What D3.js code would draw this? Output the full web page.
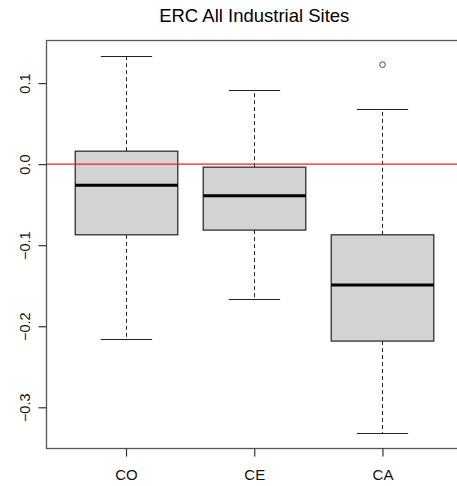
<!DOCTYPE html>
<html>
<head>
<meta charset="utf-8">
<script src="https://cdn.jsdelivr.net/npm/d3@7"></script>
<style>
  html, body { margin: 0; padding: 0; background: #fff; }
  svg { display: block; font-family: "Liberation Sans", Arial, sans-serif; }
</style>
</head>
<body>
<svg id="chart" width="457" height="486"></svg>
<script>
// Box-plot summary statistics per site group
const categories = ["CO", "CE", "CA"];
const whiskerLow  = [-0.2158, -0.1670, -0.3322];
const q1          = [-0.0872, -0.0814, -0.2183];
const median      = [-0.0259, -0.0391, -0.1492];
const q3          = [ 0.0160, -0.0037, -0.0872];
const whiskerHigh = [ 0.1339,  0.0912,  0.0678];
const outliers    = [[], [], [0.1228]];
const yTicks = [-0.3, -0.2, -0.1, 0.0, 0.1];
const refLine = 0;
const title = "ERC All Industrial Sites";

const svg = d3.select("#chart");
const plot = { left: 46.5, right: 462, top: 40.5, bottom: 448.5 };

// Value range padded by 4% on each side
const lo = d3.min([...whiskerLow, ...outliers.flat()]);
const hi = d3.max([...whiskerHigh, ...outliers.flat()]);
const pad = (hi - lo) * 0.04;
const y = d3.scaleLinear().domain([lo - pad, hi + pad]).range([plot.bottom, plot.top]);

// Group positions 1..n on a padded continuous axis
const n = categories.length;
const xpad = n * 0.04;
const x = d3.scaleLinear().domain([0.5 - xpad, n + 0.5 + xpad]).range([plot.left, plot.right]);
const boxW = (x(1) - x(0)) * 0.8;
const capW = boxW * 0.5;

// Title
svg.append("text")
  .attr("x", (plot.left + plot.right) / 2)
  .attr("y", 22)
  .attr("text-anchor", "middle")
  .attr("font-size", "18.5px")
  .attr("fill", "#000")
  .text(title);

const g = svg.append("g");

// Boxes
categories.forEach((c, i) => {
  const cx = Math.round(x(i + 1)) + 0.5;
  const grp = g.append("g");
  // whiskers (dashed)
  grp.append("line").attr("x1", cx).attr("x2", cx)
    .attr("y1", y(q3[i])).attr("y2", y(whiskerHigh[i]))
    .attr("stroke", "#222").attr("stroke-width", 1).attr("stroke-dasharray", "4,3");
  grp.append("line").attr("x1", cx).attr("x2", cx)
    .attr("y1", y(q1[i])).attr("y2", y(whiskerLow[i]))
    .attr("stroke", "#222").attr("stroke-width", 1).attr("stroke-dasharray", "4,3");
  // caps
  [whiskerHigh[i], whiskerLow[i]].forEach(v => {
    grp.append("line").attr("x1", cx - capW / 2).attr("x2", cx + capW / 2)
      .attr("y1", Math.round(y(v)) + 0.5).attr("y2", Math.round(y(v)) + 0.5)
      .attr("stroke", "#222").attr("stroke-width", 1.2);
  });
  // box
  grp.append("rect")
    .attr("x", cx - boxW / 2).attr("y", y(q3[i]))
    .attr("width", boxW).attr("height", y(q1[i]) - y(q3[i]))
    .attr("fill", "#d3d3d3").attr("stroke", "#222").attr("stroke-width", 1.2);
  // median
  grp.append("line").attr("x1", cx - boxW / 2).attr("x2", cx + boxW / 2)
    .attr("y1", y(median[i])).attr("y2", y(median[i]))
    .attr("stroke", "#000").attr("stroke-width", 3);
  // outliers
  outliers[i].forEach(v => {
    grp.append("circle").attr("cx", cx).attr("cy", y(v)).attr("r", 2.8)
      .attr("fill", "none").attr("stroke", "#444").attr("stroke-width", 1);
  });
});

// Horizontal reference line at zero
svg.append("line")
  .attr("x1", plot.left).attr("x2", plot.right)
  .attr("y1", y(refLine)).attr("y2", y(refLine))
  .attr("stroke", "#ff1a1a").attr("stroke-width", 1.2);

// Plot frame
svg.append("rect")
  .attr("x", plot.left).attr("y", plot.top)
  .attr("width", plot.right - plot.left).attr("height", plot.bottom - plot.top)
  .attr("fill", "none").attr("stroke", "#555").attr("stroke-width", 1.3);

// Y axis: ticks to the left, labels rotated
const yAxis = d3.axisLeft(y).tickValues(yTicks).tickSize(8).tickPadding(0)
  .tickFormat(d3.format(".1f"));
const ya = svg.append("g").attr("transform", `translate(${plot.left},0)`).call(yAxis);
ya.select(".domain").remove();
ya.selectAll(".tick line").attr("stroke", "#333").attr("stroke-width", 1.2);
ya.selectAll(".tick text")
  .attr("font-size", "14.5px").attr("fill", "#111")
  .attr("text-anchor", "middle")
  .attr("x", 0).attr("dy", 0)
  .attr("transform", "translate(-20,0) rotate(-90)")
  .attr("y", 0)
  .attr("dominant-baseline", "middle");

// X axis: group names
const xAxis = d3.axisBottom(x).tickValues(d3.range(1, n + 1)).tickSize(8).tickPadding(13)
  .tickFormat(d => categories[d - 1]);
const xa = svg.append("g").attr("transform", `translate(0,${plot.bottom})`).call(xAxis);
xa.select(".domain").remove();
xa.selectAll(".tick line").attr("stroke", "#333").attr("stroke-width", 1.2);
xa.selectAll(".tick text").attr("font-size", "15px").attr("fill", "#111");
</script>
</body>
</html>
